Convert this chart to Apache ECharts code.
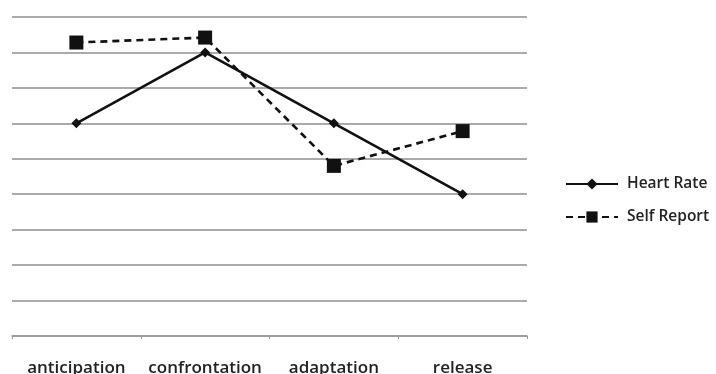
<!DOCTYPE html>
<html>
<head>
<meta charset="utf-8">
<script src="https://cdn.jsdelivr.net/npm/echarts@6/dist/echarts.min.js"></script>
<style>html,body{margin:0;padding:0;background:#fff}#c{width:716px;height:374px}</style>
</head>
<body>
<div id="c"></div>
<script>
const categories = ['anticipation', 'confrontation', 'adaptation', 'release'];
const heartRate = [6.0, 8.0, 6.0, 4.0];
const selfReport = [8.28, 8.42, 4.8, 5.78];

const chart = echarts.init(document.getElementById('c'));
chart.setOption({
  animation: false,
  backgroundColor: '#fff',
  grid: { left: 12, right: 189, top: 17, bottom: 38, containLabel: false, outerBoundsMode: 'none' },
  legend: {
    orient: 'vertical',
    left: 560,
    top: 171,
    itemWidth: 52,
    itemHeight: 14,
    itemGap: 17,
    textStyle: { fontFamily: 'Open Sans', fontSize: 15.5, color: '#222', fontWeight: 600, padding: [0, 0, 0, 4] },
    data: ['Heart Rate', 'Self Report']
  },
  xAxis: {
    type: 'category',
    data: categories,
    boundaryGap: true,
    axisLine: { lineStyle: { color: '#999', width: 1.5 } },
    axisTick: { show: true, length: 3, lineStyle: { color: '#999' } },
    axisLabel: { interval: 0, hideOverlap: false, margin: 24, fontFamily: 'Open Sans', fontSize: 17, fontWeight: 600, color: '#222' },
    splitLine: { show: false }
  },
  yAxis: {
    type: 'value',
    min: 0,
    max: 9,
    interval: 1,
    axisLine: { show: false },
    axisTick: { show: false },
    axisLabel: { show: false },
    splitLine: { lineStyle: { color: '#aaa', width: 2 } }
  },
  series: [
    {
      name: 'Heart Rate',
      type: 'line',
      data: heartRate,
      symbol: 'diamond',
      symbolSize: [10, 10],
      lineStyle: { color: '#111', width: 2.6 },
      itemStyle: { color: '#111' },
      z: 3
    },
    {
      name: 'Self Report',
      type: 'line',
      data: selfReport,
      symbol: 'rect',
      symbolSize: 14,
      lineStyle: { color: '#111', width: 2.6, type: [7, 5] },
      itemStyle: { color: '#111' },
      z: 2
    }
  ]
});
</script>
</body>
</html>
